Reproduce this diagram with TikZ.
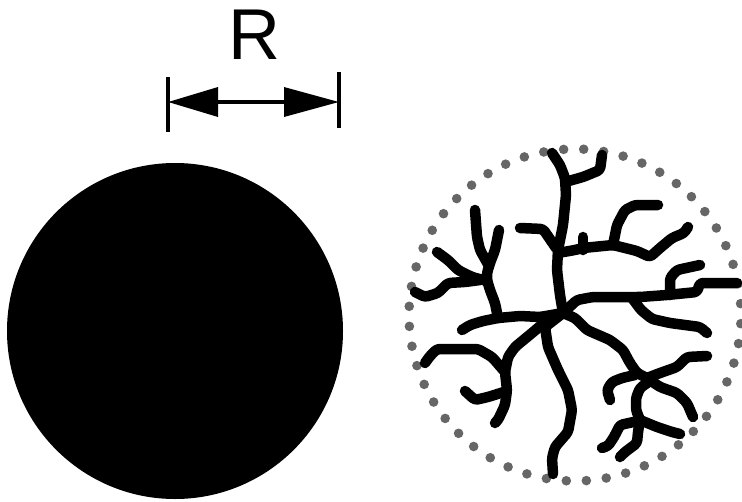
\documentclass[tikz,border=0pt]{standalone}
\usepackage{fontspec}
\setmainfont{Liberation Sans}
\usetikzlibrary{arrows.meta}
\begin{document}
\begin{tikzpicture}[x=1pt,y=-1pt,
  branch/.style={line width=10.5pt, line cap=round, line join=round, rounded corners=3pt},
  bar/.style={line width=3.5pt},
  dimline/.style={line width=3.5pt, {Triangle[length=50pt,width=29pt]}-{Triangle[length=55pt,width=29pt]}},
  dotmark/.style={fill=black!60},
]
\useasboundingbox (0,0) rectangle (742,501);
% solid sphere
\fill (175,331) circle[radius=168pt];
% dimension R
\node (R) at (254,35) {\fontsize{72}{72}\selectfont R};
\coordinate (lt) at (168,77);  \coordinate (lb) at (168,132);
\coordinate (rt) at (339,72);  \coordinate (rb) at (339,128);
\coordinate (dl) at (168,102); \coordinate (dr) at (339,102);
\draw[bar] (lt) -- (lb);
\draw[bar] (rt) -- (rb);
\draw[dimline] (dl) -- (dr);
% dotted boundary
\foreach \a in {0,...,51}
  \fill[dotmark] (575,315) ++({\a*6.9231+3}:166) circle[radius=4.8pt];
% dendrimer branches
\coordinate (H) at (563,313);
% trunk up
\draw[branch] (H) -- (560,295) -- (557,270) -- (558,250) -- (563,225) -- (566,195) -- (565,178) -- (560,165) -- (552,153);
\draw[branch] (556,248) -- (543,229) -- (520,228);
\draw[branch] (565,182) -- (583,177) -- (600,170) -- (602,155);
\draw[branch] (558,253) -- (575,250) -- (583,248) -- (613,245) -- (637,251) -- (650,257) -- (660,248) -- (672,238) -- (684,233) -- (688,227);
\draw[branch] (583,250) -- (583,237);
\draw[branch] (613,245) -- (617,225) -- (625,210) -- (635,205) -- (658,205);
% left branch with upper-left subtree
\draw[branch] (H) -- (540,317) -- (520,316) -- (498,318) -- (483,321) -- (470,325) -- (462,330);
\draw[branch] (498,318) -- (495,303) -- (490,290) -- (487,280) -- (487,273) -- (490,263) -- (495,250) -- (499,230);
\draw[branch] (489,266) -- (480,250) -- (477,237) -- (475,210);
\draw[branch] (487,281) -- (472,277) -- (458,270) -- (448,260) -- (437,252);
\draw[branch] (480,280) -- (465,282) -- (448,283) -- (438,293) -- (425,297) -- (415,292);
% down-left branch A
\draw[branch] (H) -- (545,322) -- (532,333) -- (515,347) -- (508,357) -- (505,372) -- (507,390) -- (505,405) -- (498,420) -- (495,423);
\draw[branch] (507,391) -- (488,397) -- (475,400) -- (465,391);
\draw[branch] (505,372) -- (492,357) -- (478,349) -- (437,349) -- (430,356) -- (425,363);
% trunk down B
\draw[branch] (H) -- (545,327) -- (548,347) -- (558,370) -- (568,390) -- (572,410) -- (568,432) -- (555,447) -- (552,458) -- (553,474);
% down-right branch C
\draw[branch] (H) -- (575,318) -- (587,330) -- (610,340) -- (623,350) -- (630,363) -- (637,373) -- (647,378);
\draw[branch] (647,378) -- (660,373) -- (677,367) -- (687,357) -- (707,356);
\draw[branch] (647,378) -- (660,387) -- (677,393) -- (687,403) -- (693,417);
\draw[branch] (635,375) -- (622,378) -- (612,382) -- (607,390) -- (610,400);
\draw[branch] (650,381) -- (640,388) -- (636,398) -- (636,410) -- (640,420) -- (638,432) -- (637,443) -- (625,452) -- (620,457);
\draw[branch] (640,420) -- (657,427) -- (672,432) -- (680,434);
\draw[branch] (638,421) -- (620,425) -- (614,437) -- (608,446) -- (602,448);
% right long branch D
\draw[branch] (H) -- (577,300) -- (593,297) -- (620,297) -- (640,297) -- (667,295) -- (697,292) -- (700,283) -- (737,283);
\draw[branch] (670,295) -- (670,278) -- (677,270) -- (700,265);
\draw[branch] (632,298) -- (641,310) -- (652,319) -- (670,323) -- (700,327) -- (707,333);
\end{tikzpicture}
\end{document}
